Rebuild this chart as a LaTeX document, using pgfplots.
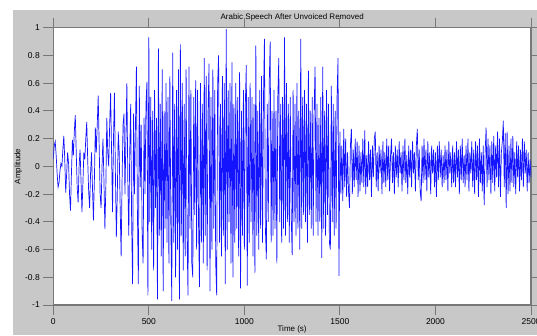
\documentclass[border=0pt]{standalone}
\usepackage{pgfplots}
\pgfplotsset{compat=1.18}
\usepackage{fontspec}
\setmainfont{Liberation Sans}
\definecolor{bggray}{RGB}{200,200,200}
\definecolor{axgray}{RGB}{120,120,120}
\definecolor{wave}{RGB}{20,20,255}
\begin{document}
\begin{tikzpicture}[x=1pt,y=1pt]
\useasboundingbox (0,0) rectangle (537,335);
\fill[bggray] (13,0) rectangle (537,325);
\begin{axis}[
 at={(53.3pt,30pt)}, anchor=south west,
 scale only axis, width=477.7pt, height=277.3pt,
 xmin=0, xmax=2500, ymin=-1, ymax=1,
 axis background/.style={fill=white},
 axis line style={axgray, line width=1.2pt},
 xtick={0,500,1000,1500,2000,2500},
 ytick={-1,-0.8,-0.6,-0.4,-0.2,0,0.2,0.4,0.6,0.8,1},
 tick style={axgray, line width=0.9pt},
 tick align=outside,
 major tick length=10pt,
 xticklabel pos=lower, yticklabel pos=left,
 ticklabel style={font=\fontsize{8.5}{10}\selectfont, text=black},
 /pgf/number format/assume math mode=true,
 /pgf/number format/1000 sep={},
 title={Arabic Speech After Unvoiced Removed},
 title style={at={(0.5,1)}, anchor=center, yshift=4pt, font=\fontsize{8}{9}\selectfont},
 xlabel={Time (s)},
 xlabel style={at={(axis description cs:0.5,-0.106)}, anchor=south, inner sep=1pt, font=\fontsize{8}{9}\selectfont},
 ylabel={Amplitude},
 ylabel style={at={(axis description cs:-0.073,0.5)}, anchor=center, font=\fontsize{8}{9}\selectfont},
]
\addplot[color=wave, line width=0.7pt] coordinates {
(0,0.05)(5,0.15)(10,0.18)(15,0.08)(20,-0.05)(25,-0.15)(30,-0.12)(35,-0.03)(40,0.02)(45,0.00)
(50,0.12)(55,0.22)(60,0.05)(65,-0.19)(70,-0.05)(75,0.10)(80,0.02)(85,-0.20)(90,-0.32)(95,-0.05)
(100,0.19)(105,0.08)(110,0.25)(115,0.37)(120,0.10)(125,-0.15)(130,-0.26)(135,0.00)(140,0.12)(145,-0.10)
(150,-0.33)(155,-0.12)(160,0.10)(165,0.05)(170,0.20)(175,0.32)(180,0.05)(185,-0.18)(190,-0.30)(195,-0.05)
(200,0.10)(205,-0.15)(210,-0.39)(215,-0.10)(220,0.28)(225,0.10)(230,0.30)(235,0.51)(240,0.15)(245,-0.20)
(250,-0.30)(255,0.00)(260,0.20)(265,-0.10)(270,-0.45)(275,-0.15)(280,0.35)(285,0.10)(290,0.00)(295,0.30)
(300,0.53)(305,0.10)(310,-0.33)(315,0.20)(320,0.53)(325,-0.05)(330,-0.51)(335,-0.20)(340,0.25)(345,0.10)
(350,-0.30)(355,-0.65)(360,-0.10)(365,0.30)(370,0.38)(375,-0.20)(380,0.20)(385,0.60)(390,-0.10)(395,-0.50)
(400,0.10)(405,0.45)(410,-0.40)(415,-0.85)(420,0.38)(425,-0.20)(430,0.30)(435,0.72)(440,-0.30)(445,-0.85)
(450,0.58)(455,-0.15)(460,0.30)(465,-0.50)(470,-0.70)(475,0.35)(480,-0.20)(485,0.45)(490,0.61)(495,-0.93)
(500,0.93)(505,-0.40)(510,0.50)(515,-0.60)(520,0.40)(525,-0.75)(530,0.55)(535,-0.30)(540,0.35)(545,-0.96)
(550,0.85)(555,-0.50)(560,0.45)(565,-0.65)(570,0.70)(575,-0.90)(580,0.40)(585,-0.45)(590,0.60)(595,-0.55)
(600,0.50)(605,-0.70)(610,0.65)(615,-0.40)(620,-0.97)(625,0.82)(630,-0.55)(635,0.45)(640,-0.80)(645,0.55)
(650,-0.60)(655,0.70)(660,-0.96)(665,0.88)(670,-0.50)(675,0.60)(680,-0.75)(685,0.45)(690,-0.65)(695,0.70)
(700,-0.50)(705,-0.93)(710,0.72)(715,-0.45)(720,0.55)(725,-0.70)(730,-0.80)(735,0.50)(740,-0.35)(745,0.62)
(750,-0.60)(755,0.55)(760,-0.40)(765,-0.87)(770,0.60)(775,-0.55)(780,0.45)(785,-0.70)(790,0.78)(795,-0.50)
(800,0.65)(805,-0.75)(810,0.40)(815,0.74)(820,-0.90)(825,0.50)(830,-0.60)(835,0.70)(840,-0.45)(845,0.55)
(850,-0.70)(855,-0.93)(860,0.60)(865,0.80)(870,-0.55)(875,0.45)(880,-0.65)(885,0.65)(890,-0.50)(895,0.60)
(900,-0.85)(905,0.99)(910,-0.60)(915,0.55)(920,-0.40)(925,0.60)(930,-0.70)(935,0.75)(940,-0.80)(945,0.45)
(950,-0.55)(955,0.60)(960,-0.45)(965,0.50)(970,-0.65)(975,0.68)(980,-0.88)(985,0.40)(990,-0.50)(995,0.55)
(1000,-0.60)(1005,0.45)(1010,0.73)(1015,-0.86)(1020,0.50)(1025,-0.55)(1030,0.60)(1035,-0.40)(1040,0.50)(1045,-0.65)
(1050,0.45)(1055,-0.77)(1060,0.87)(1065,-0.50)(1070,0.40)(1075,-0.60)(1080,0.55)(1085,-0.45)(1090,0.65)(1095,-0.55)
(1100,0.50)(1105,0.92)(1110,-0.45)(1115,-0.67)(1120,0.45)(1125,-0.40)(1130,0.60)(1135,0.90)(1140,-0.55)(1145,0.40)
(1150,-0.50)(1155,0.55)(1160,-0.45)(1165,0.40)(1170,-0.70)(1175,0.50)(1180,0.78)(1185,-0.40)(1190,0.45)(1195,-0.55)
(1200,0.50)(1205,-0.45)(1210,0.93)(1215,-0.50)(1220,0.60)(1225,-0.40)(1230,0.45)(1235,-0.55)(1240,0.50)(1245,-0.35)
(1250,-0.64)(1255,0.55)(1260,-0.40)(1265,0.45)(1270,-0.50)(1275,0.60)(1280,-0.45)(1285,0.40)(1290,-0.60)(1295,0.92)
(1300,-0.45)(1305,0.50)(1310,-0.35)(1315,0.55)(1320,-0.40)(1325,0.45)(1330,-0.55)(1335,0.69)(1340,-0.35)(1345,0.40)
(1350,-0.45)(1355,0.50)(1360,-0.50)(1365,0.40)(1370,0.72)(1375,-0.40)(1380,0.45)(1385,-0.50)(1390,0.35)(1395,-0.40)
(1400,0.50)(1405,-0.66)(1410,0.72)(1415,-0.45)(1420,0.40)(1425,-0.50)(1430,0.55)(1435,-0.35)(1440,0.45)(1445,-0.55)
(1450,-0.60)(1455,0.58)(1460,-0.40)(1465,0.45)(1470,-0.50)(1475,0.40)(1480,-0.45)(1485,0.50)(1490,0.78)(1495,-0.79)
(1500,0.25)(1505,-0.20)(1510,0.15)(1515,-0.25)(1520,0.27)(1525,-0.15)(1530,0.20)(1535,-0.22)(1540,0.10)(1545,-0.18)
(1550,-0.30)(1555,0.15)(1560,0.27)(1565,-0.20)(1570,0.12)(1575,-0.15)(1580,0.20)(1585,-0.10)(1590,0.18)(1595,-0.22)
(1600,0.15)(1605,-0.18)(1610,0.10)(1615,-0.12)(1620,0.20)(1625,-0.15)(1630,0.26)(1635,-0.20)(1640,0.08)(1645,-0.15)
(1650,0.18)(1655,-0.10)(1660,0.12)(1665,-0.22)(1670,0.15)(1675,-0.08)(1680,0.20)(1685,0.25)(1690,-0.15)(1695,0.10)
(1700,-0.18)(1705,0.15)(1710,-0.05)(1715,0.12)(1720,-0.20)(1725,0.18)(1730,-0.12)(1735,0.10)(1740,-0.15)(1745,0.20)
(1750,-0.10)(1755,0.15)(1760,-0.18)(1765,0.08)(1770,0.20)(1775,-0.12)(1780,0.10)(1785,-0.20)(1790,0.15)(1795,-0.08)
(1800,0.12)(1805,-0.15)(1810,0.18)(1815,-0.05)(1820,0.10)(1825,-0.18)(1830,0.15)(1835,-0.10)(1840,0.20)(1845,-0.12)
(1850,0.08)(1855,-0.20)(1860,0.15)(1865,-0.08)(1870,0.12)(1875,-0.15)(1880,0.18)(1885,-0.05)(1890,0.10)(1895,-0.18)
(1900,0.15)(1905,0.27)(1910,-0.10)(1915,0.12)(1920,-0.18)(1925,-0.25)(1930,0.15)(1935,-0.12)(1940,0.20)(1945,-0.10)
(1950,0.12)(1955,-0.18)(1960,0.18)(1965,-0.08)(1970,0.10)(1975,-0.20)(1980,0.15)(1985,-0.05)(1990,0.12)(1995,-0.15)
(2000,0.10)(2005,-0.22)(2010,0.15)(2015,-0.10)(2020,0.18)(2025,-0.08)(2030,0.12)(2035,-0.15)(2040,0.08)(2045,-0.12)
(2050,0.15)(2055,-0.10)(2060,0.12)(2065,-0.18)(2070,0.18)(2075,-0.05)(2080,0.10)(2085,-0.15)(2090,0.15)(2095,-0.12)
(2100,0.10)(2105,-0.15)(2110,0.18)(2115,-0.08)(2120,0.12)(2125,-0.20)(2130,0.15)(2135,-0.10)(2140,0.20)(2145,-0.12)
(2150,0.08)(2155,-0.15)(2160,0.15)(2165,-0.10)(2170,0.20)(2175,-0.18)(2180,0.10)(2185,-0.05)(2190,0.18)(2195,-0.15)
(2200,0.12)(2205,-0.20)(2210,0.18)(2215,-0.10)(2220,0.15)(2225,-0.22)(2230,0.20)(2235,-0.12)(2240,0.10)(2245,-0.18)
(2250,0.15)(2255,-0.28)(2260,0.10)(2265,0.28)(2270,-0.15)(2275,0.20)(2280,-0.10)(2285,0.15)(2290,-0.20)(2295,0.18)
(2300,-0.12)(2305,0.22)(2310,-0.18)(2315,0.15)(2320,-0.08)(2325,0.25)(2330,-0.15)(2335,0.20)(2340,-0.22)(2345,0.10)
(2350,0.18)(2355,0.33)(2360,-0.15)(2365,0.24)(2370,-0.30)(2375,0.25)(2380,-0.20)(2385,0.15)(2390,-0.18)(2395,0.20)
(2400,-0.12)(2405,0.22)(2410,-0.15)(2415,0.10)(2420,-0.20)(2425,0.18)(2430,-0.08)(2435,0.15)(2440,-0.18)(2445,0.12)
(2450,-0.10)(2455,0.20)(2460,-0.15)(2465,0.18)(2470,-0.05)(2475,0.12)(2480,-0.18)(2485,0.10)(2490,-0.12)(2495,0.05)
(2500,-0.08)
};
\end{axis}
\end{tikzpicture}
\end{document}
